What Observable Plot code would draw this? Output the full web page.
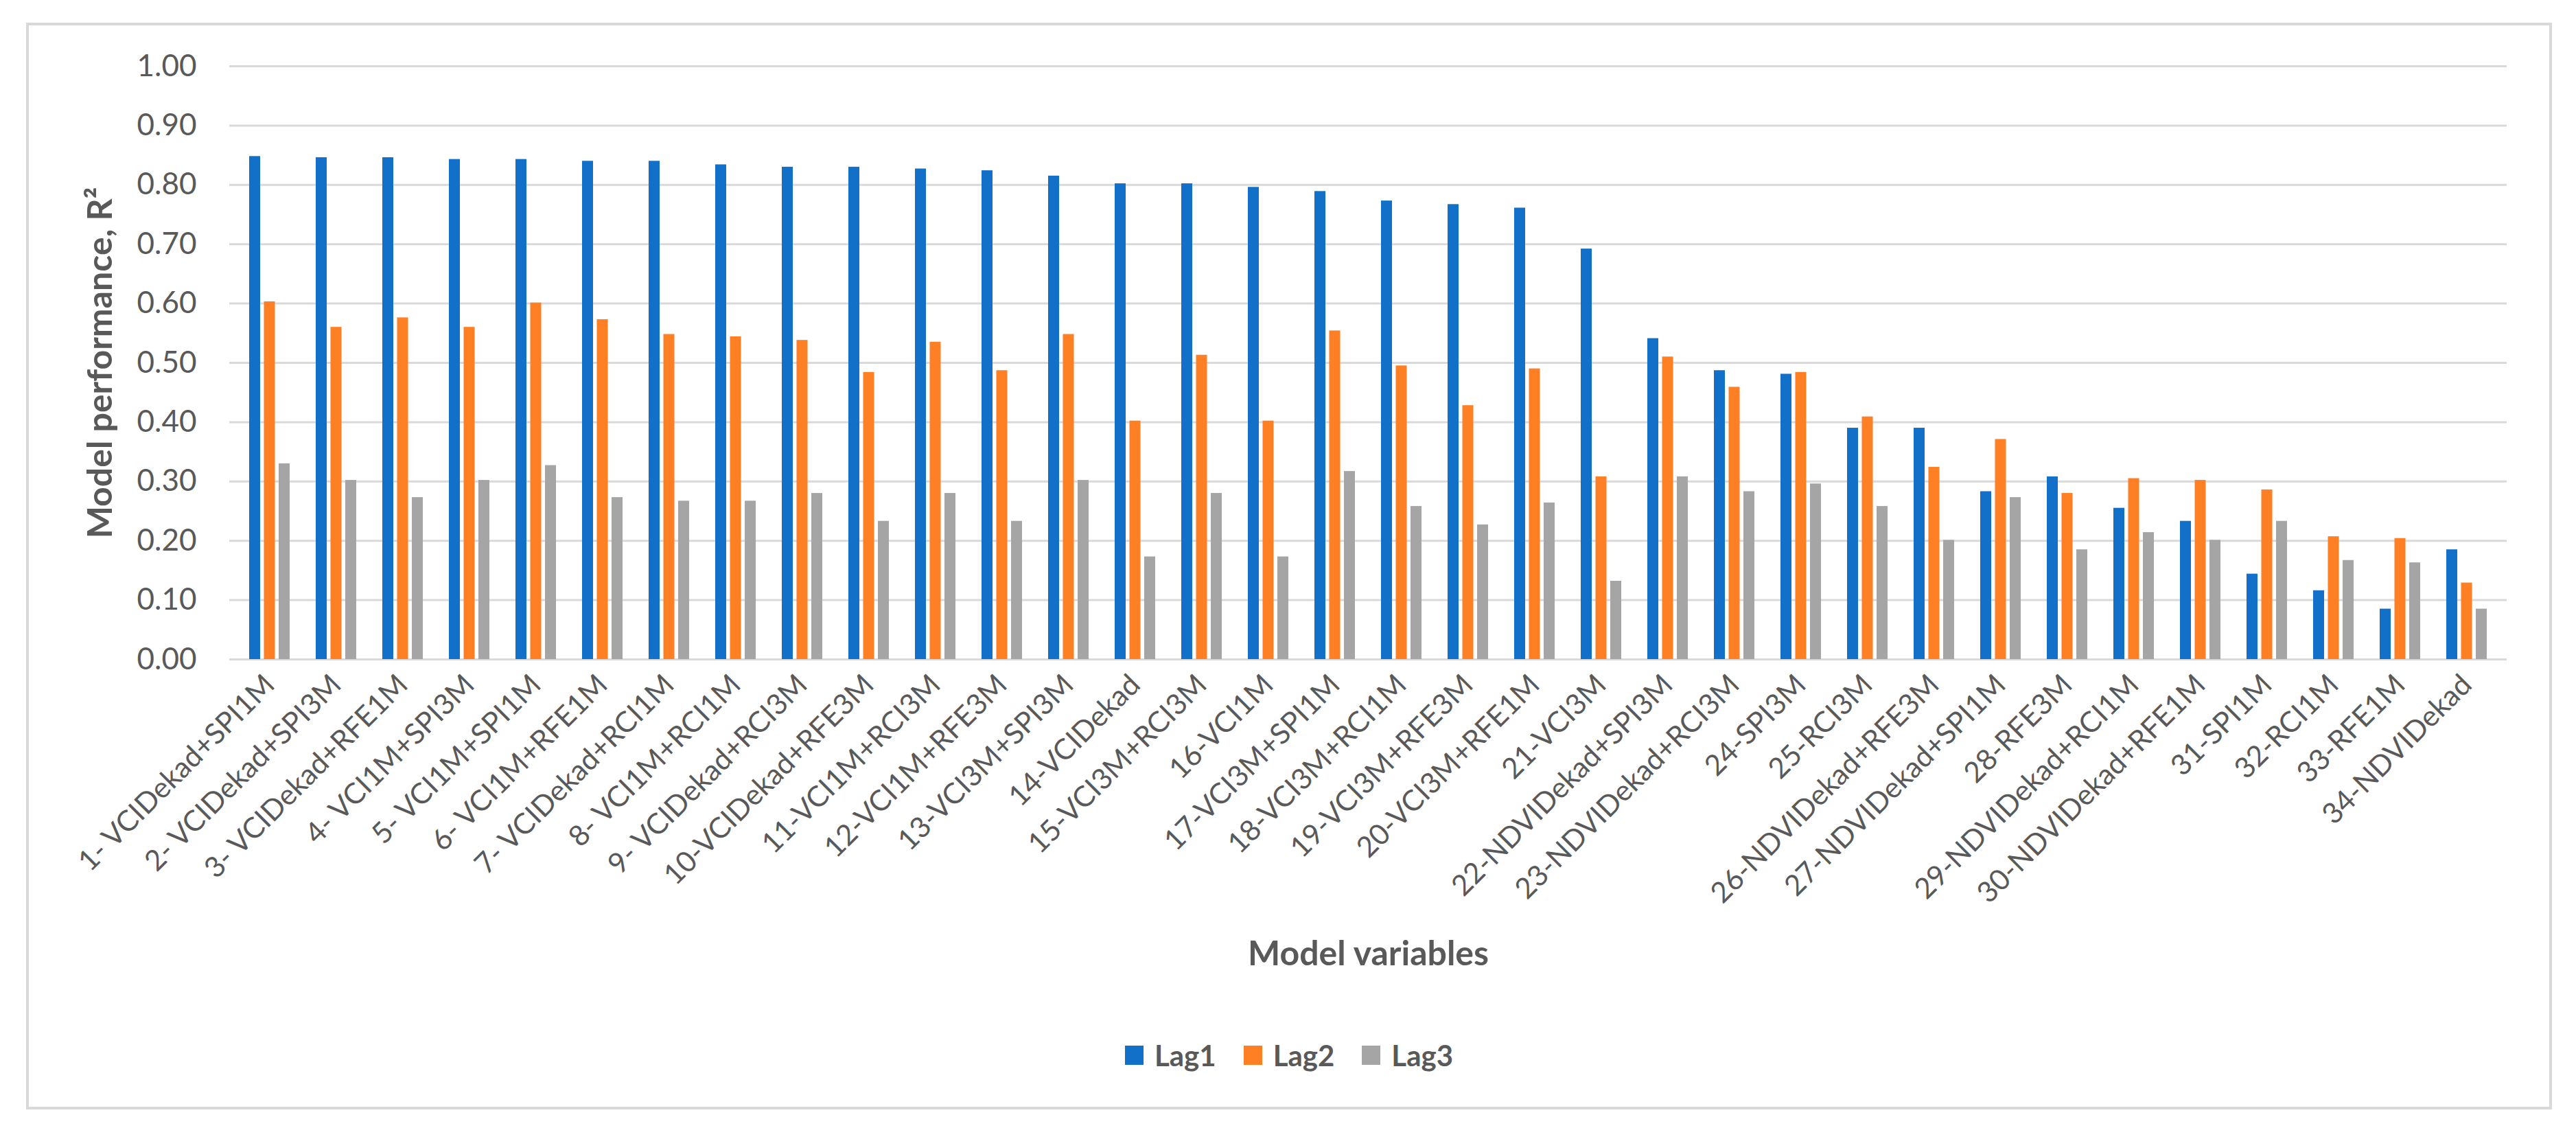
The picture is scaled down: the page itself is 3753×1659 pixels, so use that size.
<!DOCTYPE html>
<html>
<head>
<meta charset="utf-8">
<script src="https://cdn.jsdelivr.net/npm/d3@7"></script>
<script src="https://cdn.jsdelivr.net/npm/@observablehq/plot@0.6"></script>
<style>
  body { margin: 0; background: #fff; font-family: Lato, sans-serif; }
  #wrap { position: relative; width: 3753px; height: 1659px; background: #fff; }
  #frame { position: absolute; left: 38px; top: 33px; width: 3680px; height: 1583px; border: 4px solid #d9d9d9; box-sizing: border-box; }
  #chart { position: absolute; left: 0; top: 0; }
  #legend { position: absolute; left: 38px; width: 3680px; top: 1510px; height: 54px; display: flex; justify-content: center; align-items: center; gap: 40px; color: #595959; font-size: 42px; font-weight: 700; }
  .item { display: flex; align-items: center; gap: 16px; }
  .sw { width: 27px; height: 28px; display: inline-block; }
</style>
</head>
<body>
<div id="wrap">
  <div id="frame"></div>
  <div id="chart"></div>
  <div id="legend"></div>
</div>
<script>
const categories = [
  "1- VCIDekad+SPI1M","2- VCIDekad+SPI3M","3- VCIDekad+RFE1M","4- VCI1M+SPI3M","5- VCI1M+SPI1M",
  "6- VCI1M+RFE1M","7- VCIDekad+RCI1M","8- VCI1M+RCI1M","9- VCIDekad+RCI3M","10-VCIDekad+RFE3M",
  "11-VCI1M+RCI3M","12-VCI1M+RFE3M","13-VCI3M+SPI3M","14-VCIDekad","15-VCI3M+RCI3M",
  "16-VCI1M","17-VCI3M+SPI1M","18-VCI3M+RCI1M","19-VCI3M+RFE3M","20-VCI3M+RFE1M",
  "21-VCI3M","22-NDVIDekad+SPI3M","23-NDVIDekad+RCI3M","24-SPI3M","25-RCI3M",
  "26-NDVIDekad+RFE3M","27-NDVIDekad+SPI1M","28-RFE3M","29-NDVIDekad+RCI1M","30-NDVIDekad+RFE1M",
  "31-SPI1M","32-RCI1M","33-RFE1M","34-NDVIDekad"
];
const lag1 = [0.848,0.846,0.846,0.843,0.843,0.840,0.840,0.834,0.830,0.830,0.827,0.824,0.815,0.802,0.802,0.796,0.789,0.773,0.767,0.761,0.692,0.541,0.487,0.481,0.390,0.390,0.283,0.308,0.255,0.233,0.144,0.116,0.085,0.185];
const lag2 = [0.603,0.560,0.576,0.560,0.601,0.573,0.548,0.544,0.538,0.484,0.535,0.487,0.548,0.402,0.513,0.402,0.554,0.495,0.428,0.490,0.308,0.510,0.459,0.484,0.409,0.324,0.371,0.280,0.305,0.302,0.286,0.207,0.204,0.129];
const lag3 = [0.330,0.302,0.273,0.302,0.327,0.273,0.267,0.267,0.280,0.233,0.280,0.233,0.302,0.173,0.280,0.173,0.317,0.258,0.227,0.264,0.132,0.308,0.283,0.296,0.258,0.201,0.273,0.185,0.214,0.201,0.233,0.167,0.163,0.085];
const seriesNames = ["Lag1", "Lag2", "Lag3"];
const seriesColors = ["#1370c8", "#ff7f24", "#a5a5a5"];
const yTicks = [0, 0.1, 0.2, 0.3, 0.4, 0.5, 0.6, 0.7, 0.8, 0.9, 1.0];
const yTitle = "Model performance, R²";
const xTitle = "Model variables";

const series = [lag1, lag2, lag3];
const offsets = [-21.5, 0, 21.5];

const barMarks = series.map((vals, s) =>
  Plot.barY(categories, {
    x: d => d,
    y: (d, i) => vals[i],
    fill: seriesColors[s],
    dx: offsets[s],
    insetLeft: 40.5,
    insetRight: 40.5
  })
);

const chart = Plot.plot({
  width: 3753,
  height: 1480,
  marginLeft: 334,
  marginRight: 101,
  marginTop: 96,
  marginBottom: 520,
  style: { fontFamily: "Lato, sans-serif", color: "#595959", background: "transparent" },
  x: { domain: categories, padding: 0 },
  y: { domain: [0, 1] },
  marks: [
    Plot.ruleY(yTicks, { stroke: "#d9d9d9", strokeWidth: 3 }),
    ...barMarks,
    Plot.axisY({ ticks: yTicks, tickFormat: d3.format(".2f"), tickSize: 0, tickPadding: 48, fontSize: 44, label: null }),
    Plot.axisX({ tickRotate: -45, tickSize: 0, tickPadding: 30, fontSize: 42, label: null }),
    Plot.text([yTitle], { text: d => d, frameAnchor: "left", textAnchor: "middle", lineAnchor: "middle", dx: -188, rotate: -90, fontSize: 50, fontWeight: "bold" }),
    Plot.text([xTitle], { text: d => d, frameAnchor: "bottom", textAnchor: "middle", lineAnchor: "middle", dy: 429, fontSize: 50, fontWeight: "bold" })
  ]
});
document.getElementById("chart").appendChild(chart);

const legend = document.getElementById("legend");
seriesNames.forEach((name, i) => {
  const item = document.createElement("div");
  item.className = "item";
  const sw = document.createElement("span");
  sw.className = "sw";
  sw.style.background = seriesColors[i];
  const label = document.createElement("span");
  label.textContent = name;
  item.appendChild(sw);
  item.appendChild(label);
  legend.appendChild(item);
});
</script>
</body>
</html>
